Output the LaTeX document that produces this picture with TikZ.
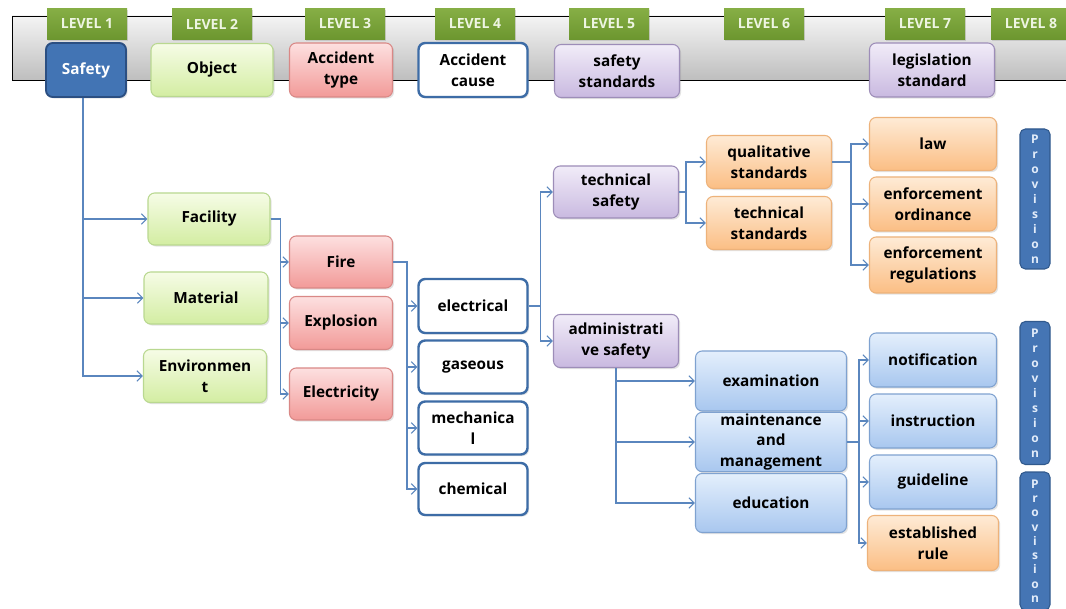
\documentclass[tikz,border=0pt]{standalone}
\usepackage{fontspec}
\setmainfont{Open Sans}
\usetikzlibrary{arrows.meta,shadows}

\definecolor{BandTop}{HTML}{F4F4F4}
\definecolor{BandBot}{HTML}{BEBEBE}
\definecolor{TagTop}{HTML}{86AE45}
\definecolor{TagBot}{HTML}{6C962F}
\definecolor{TagText}{HTML}{EEF5E2}
\definecolor{SafeFill}{HTML}{4274B4}
\definecolor{SafeLine}{HTML}{2B4F82}
\definecolor{GrTop}{HTML}{F6FCE6}
\definecolor{GrBot}{HTML}{D3EDA2}
\definecolor{GrLine}{HTML}{B9D890}
\definecolor{PkTop}{HTML}{FDE0E0}
\definecolor{PkBot}{HTML}{F29A98}
\definecolor{PkLine}{HTML}{D98886}
\definecolor{CauseLine}{HTML}{3D6CA6}
\definecolor{LvTop}{HTML}{F1ECF8}
\definecolor{LvBot}{HTML}{C9B9E0}
\definecolor{LvLine}{HTML}{9D8DB8}
\definecolor{OrTop}{HTML}{FEEBD6}
\definecolor{OrBot}{HTML}{FBBE84}
\definecolor{OrLine}{HTML}{EDB27A}
\definecolor{BlTop}{HTML}{E4EFFC}
\definecolor{BlBot}{HTML}{A8C7EF}
\definecolor{BlLine}{HTML}{7FA2D0}
\definecolor{ProvFill}{HTML}{4575B4}
\definecolor{ProvLine}{HTML}{30598D}
\definecolor{ProvText}{HTML}{E2ECFA}
\definecolor{ConnBlue}{HTML}{5A86BE}

\begin{document}
\begin{tikzpicture}[x=0.75pt,y=-0.75pt,
  box/.style={rounded corners=5pt, align=center,
    font=\bfseries\fontsize{11.5}{15.5}\selectfont, inner sep=1pt,
    drop shadow={shadow xshift=1.2pt, shadow yshift=-1.2pt, opacity=0.22}},
  boxsize/.style 2 args={minimum width=#1*0.75pt, minimum height=#2*0.75pt},
  safetybox/.style={box, fill=SafeFill, draw=SafeLine, line width=1.4pt, text=white},
  greenbox/.style={box, top color=GrTop, bottom color=GrBot, draw=GrLine, line width=0.8pt},
  pinkbox/.style={box, top color=PkTop, bottom color=PkBot, draw=PkLine, line width=0.8pt},
  causebox/.style={box, fill=white, draw=CauseLine, line width=1.8pt},
  lavbox/.style={box, top color=LvTop, bottom color=LvBot, draw=LvLine, line width=0.8pt},
  orangebox/.style={box, top color=OrTop, bottom color=OrBot, draw=OrLine, line width=0.8pt},
  bluebox/.style={box, top color=BlTop, bottom color=BlBot, draw=BlLine, line width=0.8pt},
  leveltag/.style={top color=TagTop, bottom color=TagBot, text=TagText,
    font=\bfseries\fontsize{10.5}{12}\selectfont, inner sep=0pt,
    minimum width=80*0.75pt, minimum height=31*0.75pt,
    drop shadow={shadow xshift=1pt, shadow yshift=-1pt, opacity=0.25}},
  provbar/.style 2 args={fill=ProvFill, draw=ProvLine, line width=0.8pt, rounded corners=4pt,
    text=ProvText, align=center, inner sep=0pt,
    font=\bfseries\fontsize{9}{#2}\selectfont,
    minimum width=30*0.75pt, minimum height=#1*0.75pt},
  conn/.style={draw=ConnBlue, line width=0.9pt,
    -{Straight Barb[length=4pt, width=8pt, line width=0.8pt]}}
]
\useasboundingbox (0,0) rectangle (1066,609);
\clip (0,0) rectangle (1066,609);
\fill[white] (0,0) rectangle (1066,609);

% header band
\path[top color=BandTop, bottom color=BandBot, draw=black, line width=0.7pt]
  (12,16) rectangle (1090,80);

% level tags
\node[leveltag] (l1) at (87,24) {LEVEL 1};
\node[leveltag] (l2) at (212,24) {LEVEL 2};
\node[leveltag] (l3) at (345,24) {LEVEL 3};
\node[leveltag] (l4) at (475,24) {LEVEL 4};
\node[leveltag] (l5) at (609,24) {LEVEL 5};
\node[leveltag] (l6) at (764,24) {LEVEL 6};
\node[leveltag] (l7) at (925,24) {LEVEL 7};
\node[leveltag] (l8) at (1031,24) {LEVEL 8};

% header boxes
\node[safetybox, boxsize={80}{54}] (safety) at (86,70) {Safety};
\node[greenbox, boxsize={122}{53}] (object) at (212,70) {Object};
\node[pinkbox, boxsize={103}{54}] (acctype) at (341,70) {Accident\\type};
\node[causebox, boxsize={109}{54}] (acccause) at (473,70) {Accident\\cause};
\node[lavbox, boxsize={125}{53}] (safstd) at (617,71) {safety\\standards};
\node[lavbox, boxsize={125}{54}] (legis) at (932,70) {legislation\\standard};

% level 2: objects
\node[greenbox, boxsize={122}{52}] (facility) at (209,219) {Facility};
\node[greenbox, boxsize={124}{52}] (material) at (206,298) {Material};
\node[greenbox, boxsize={123}{53}] (environment) at (205,376) {Environmen\\t};

% level 3: accident types
\node[pinkbox, boxsize={103}{52}] (fire) at (341,262) {Fire};
\node[pinkbox, boxsize={103}{53}] (explosion) at (341,323) {Explosion};
\node[pinkbox, boxsize={103}{52}] (electricity) at (341,394) {Electricity};

% level 4: accident causes
\node[causebox, boxsize={109}{54}] (electrical) at (473,306) {electrical};
\node[causebox, boxsize={109}{53}] (gaseous) at (473,367) {gaseous};
\node[causebox, boxsize={109}{53}] (mechanical) at (473,428) {mechanica\\l};
\node[causebox, boxsize={109}{52}] (chemical) at (473,489) {chemical};

% level 5: safety standards
\node[lavbox, boxsize={125}{52}] (techsafety) at (616,192) {technical\\safety};
\node[lavbox, boxsize={125}{53}] (adminsafety) at (616,341) {administrati\\ve safety};

% level 6
\node[orangebox, boxsize={125}{53}] (qualstd) at (769,162) {qualitative\\standards};
\node[orangebox, boxsize={125}{53}] (techstd) at (769,223) {technical\\standards};
\node[bluebox, boxsize={151}{60}] (exam) at (771,381) {examination};
\node[bluebox, boxsize={151}{59}] (maint) at (771,442) {maintenance\\and\\management};
\node[bluebox, boxsize={151}{59}] (educ) at (771,503) {education};

% level 7: legislation
\node[orangebox, boxsize={127}{53}] (law) at (933,144) {law};
\node[orangebox, boxsize={127}{54}] (ordinance) at (933,204) {enforcement\\ordinance};
\node[orangebox, boxsize={127}{56}] (regulations) at (933,265) {enforcement\\regulations};
\node[bluebox, boxsize={127}{54}] (notification) at (933,360) {notification};
\node[bluebox, boxsize={127}{54}] (instruction) at (933,421) {instruction};
\node[bluebox, boxsize={127}{54}] (guideline) at (933,482) {guideline};
\node[orangebox, boxsize={131}{55}] (estrule) at (933,543) {established\\rule};

% level 8: provision bars
\node[provbar={140}{11.25}] (prov1) at (1035,199) {P\\r\\o\\v\\i\\s\\i\\o\\n};
\node[provbar={143}{11.25}] (prov2) at (1035,393) {P\\r\\o\\v\\i\\s\\i\\o\\n};
\node[provbar={138}{10.7}] (prov3) at (1035,541) {P\\r\\o\\v\\i\\s\\i\\o\\n};

% connectors
\draw[conn] ([xshift=-2.25pt]safety.south) |- (facility.west);
\draw[conn] ([xshift=-2.25pt]safety.south) |- (material.west);
\draw[conn] ([xshift=-2.25pt]safety.south) |- (environment.west);

\draw[conn] (facility.east) -- ++(10,0) |- (fire.west);
\draw[conn] (facility.east) -- ++(10,0) |- (explosion.west);
\draw[conn] (facility.east) -- ++(10,0) |- (electricity.west);

\draw[conn] (fire.east) -- ++(14,0) |- (electrical.west);
\draw[conn] (fire.east) -- ++(14,0) |- (gaseous.west);
\draw[conn] (fire.east) -- ++(14,0) |- (mechanical.west);
\draw[conn] (fire.east) -- ++(14,0) |- (chemical.west);

\draw[conn] (electrical.east) -- ++(12,0) |- (techsafety.west);
\draw[conn] (electrical.east) -- ++(12,0) |- (adminsafety.west);

\draw[conn] (techsafety.east) -- ++(7,0) |- (qualstd.west);
\draw[conn] (techsafety.east) -- ++(7,0) |- (techstd.west);

\draw[conn] (qualstd.east) -- ++(19,0) |- (law.west);
\draw[conn] (qualstd.east) -- ++(19,0) |- (ordinance.west);
\draw[conn] (qualstd.east) -- ++(19,0) |- (regulations.west);

\draw[conn] (adminsafety.south) |- (exam.west);
\draw[conn] (adminsafety.south) |- (maint.west);
\draw[conn] (adminsafety.south) |- (educ.west);

\draw[conn] (maint.east) -- ++(12,0) |- (notification.west);
\draw[conn] (maint.east) -- ++(12,0) |- (instruction.west);
\draw[conn] (maint.east) -- ++(12,0) |- (guideline.west);
\draw[conn] (maint.east) -- ++(12,0) |- (estrule.west);
\end{tikzpicture}
\end{document}
